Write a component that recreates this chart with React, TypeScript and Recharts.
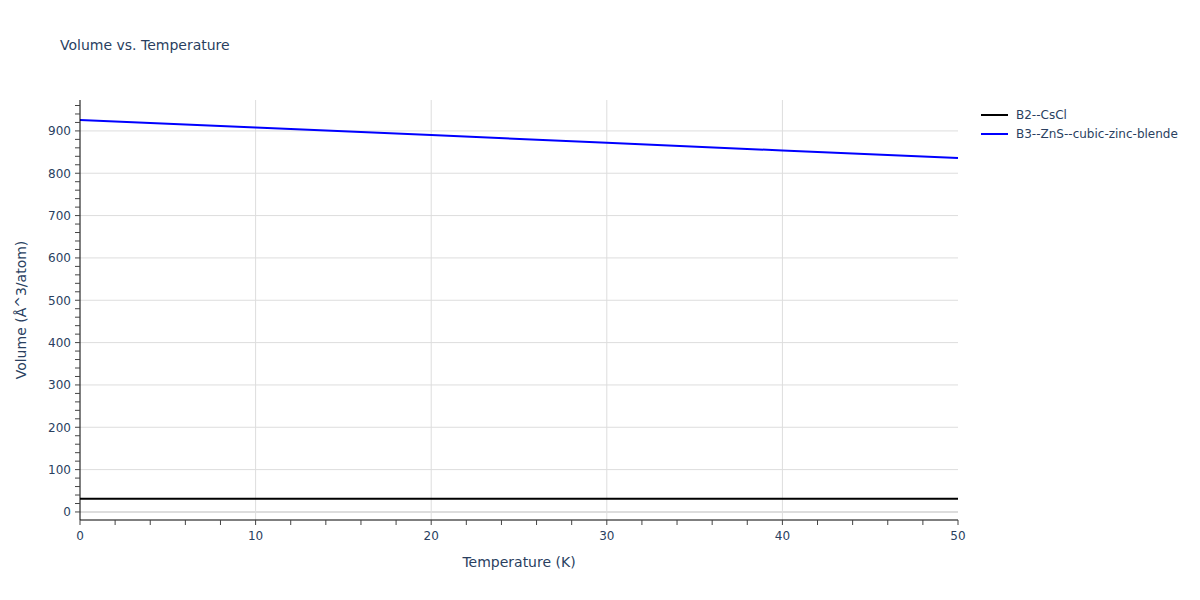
import { LineChart, Line, XAxis, YAxis, ReferenceLine, Label } from 'recharts';

const temperatures = [0, 10, 20, 30, 40, 50];
const csclVolume = [31.4, 31.4, 31.4, 31.4, 31.4, 31.4];
const znsVolume = [925.8, 907.8, 890.1, 872.2, 853.8, 836.0];

const xTicks = [0, 2, 4, 6, 8, 10, 12, 14, 16, 18, 20, 22, 24, 26, 28, 30, 32, 34, 36, 38, 40, 42, 44, 46, 48, 50];
const xGrid = [10, 20, 30, 40];
const yTicks = [
  0, 20, 40, 60, 80, 100, 120, 140, 160, 180, 200, 220, 240, 260, 280, 300, 320, 340, 360, 380,
  400, 420, 440, 460, 480, 500, 520, 540, 560, 580, 600, 620, 640, 660, 680, 700, 720, 740, 760, 780,
  800, 820, 840, 860, 880, 900, 920, 940, 960,
];
const yGrid = [100, 200, 300, 400, 500, 600, 700, 800, 900];

const series = [
  { key: 'cscl', name: 'B2--CsCl', color: '#000000', values: csclVolume },
  { key: 'zns', name: 'B3--ZnS--cubic-zinc-blende', color: '#0000ff', values: znsVolume },
];

const data = temperatures.map((t, i) => ({
  t,
  cscl: csclVolume[i],
  zns: znsVolume[i],
}));

const font = '"DejaVu Sans", Verdana, sans-serif';
const textColor = '#2a3f5f';

export default function App() {
  return (
    <div style={{ position: 'absolute', left: 0, top: 0, width: 1200, height: 600, fontFamily: font, background: '#fff' }}>
      <div style={{ position: 'absolute', left: 60, top: 34.5, fontSize: 14, lineHeight: '20px', color: textColor }}>
        Volume vs. Temperature
      </div>
      <LineChart width={1200} height={600} data={data} margin={{ top: 100, right: 242, bottom: 0, left: 0 }}>
        <XAxis
          dataKey="t"
          type="number"
          domain={[0, 50]}
          ticks={xTicks}
          interval={0}
          height={80}
          stroke="#000"
          tickSize={5}
          tickMargin={6}
          tickLine={{ stroke: '#444' }}
          tick={{ fill: textColor, fontSize: 12, fontFamily: font }}
          tickFormatter={(v: number) => (v % 10 === 0 ? String(v) : '')}
        >
          <Label value="Temperature (K)" position="insideBottom" offset={33} fill={textColor} fontSize={14} fontFamily={font} />
        </XAxis>
        <YAxis
          type="number"
          domain={[-19, 973]}
          ticks={yTicks}
          interval={0}
          width={80}
          stroke="#000"
          tickSize={5}
          tickMargin={4}
          tickLine={{ stroke: '#444' }}
          tick={{ fill: textColor, fontSize: 12, fontFamily: font }}
          tickFormatter={(v: number) => (v % 100 === 0 ? String(v) : '')}
          allowDataOverflow
        >
          <Label
            value="Volume (Å^3/atom)"
            angle={-90}
            position="insideLeft"
            offset={21}
            fill={textColor}
            fontSize={14}
            fontFamily={font}
            style={{ textAnchor: 'middle' }}
          />
        </YAxis>
        {xGrid.map((v) => (
          <ReferenceLine key={'x' + v} x={v} stroke="#dddddd" strokeWidth={1} />
        ))}
        {yGrid.map((v) => (
          <ReferenceLine key={'y' + v} y={v} stroke="#dddddd" strokeWidth={1} />
        ))}
        <ReferenceLine y={0} stroke="#dddddd" strokeWidth={2} />
        {series.map((s) => (
          <Line
            key={s.key}
            dataKey={s.key}
            name={s.name}
            stroke={s.color}
            strokeWidth={2}
            dot={false}
            type="linear"
            isAnimationActive={false}
          />
        ))}
      </LineChart>
      <div style={{ position: 'absolute', left: 981, top: 105, fontSize: 12, color: textColor }}>
        {series.map((s) => (
          <div key={s.key} style={{ display: 'flex', alignItems: 'center', height: 19 }}>
            <svg width={27} height={4} style={{ marginRight: 8 }}>
              <line x1={0} y1={2} x2={27} y2={2} stroke={s.color} strokeWidth={2} />
            </svg>
            <span>{s.name}</span>
          </div>
        ))}
      </div>
    </div>
  );
}
